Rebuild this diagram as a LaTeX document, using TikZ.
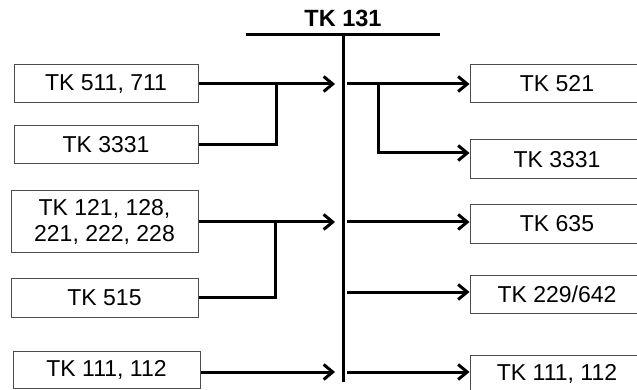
\documentclass[tikz,border=0pt]{standalone}
\usepackage{fontspec}
\setmainfont{Liberation Sans}
\usetikzlibrary{arrows.meta,calc}
\begin{document}
\begin{tikzpicture}[x=1pt,y=-1pt,
  box/.style={draw=black!70,line width=1pt,fill=white,inner sep=0pt,
    font=\fontsize{23}{26}\selectfont,align=center,text=black},
  conn/.style={line width=3pt,black},
  arr/.style={conn,-{Straight Barb[length=9pt,width=15pt,line width=3pt]}}]
\useasboundingbox (0,0) rectangle (637,390);
\clip (0,0) rectangle (637,390);
\fill[white] (0,0) rectangle (637,390);
% title and bus
\node[font=\fontsize{23.5}{26}\selectfont\bfseries] (title) at (343,18) {TK 131};
\coordinate (barL) at (246,35);
\coordinate (barR) at (440,35);
\draw[line width=3pt] (barL) -- (barR);
\coordinate (busT) at (343,35);
\coordinate (busB) at (343,382);
\draw[line width=3pt] (busT) -- (busB);
% left boxes
\node[box,minimum width=184,minimum height=38] (L1) at (106,84) {TK 511, 711};
\node[box,minimum width=184,minimum height=38] (L2) at (106,145) {TK 3331};
\node[box,minimum width=187,minimum height=61] (L3) at (104.5,221.5) {TK 121, 128,\\221, 222, 228};
\node[box,minimum width=187,minimum height=39] (L4) at (104.5,297.5) {TK 515};
\node[box,minimum width=187,minimum height=37] (L5) at (106.5,370) {TK 111, 112};
% right boxes
\node[box,minimum width=174,minimum height=38] (R1) at (557,84) {TK 521};
\node[box,minimum width=174,minimum height=39] (R2) at (557,159.5) {TK 3331};
\node[box,minimum width=174,minimum height=38] (R3) at (557,224) {TK 635};
\node[box,minimum width=174,minimum height=38] (R4) at (557,294) {TK 229/642};
\node[box,minimum width=174,minimum height=38] (R5) at (557,374) {TK 111, 112};
% junction coordinates
\coordinate (in1) at (335,84);
\coordinate (j1) at (276,84);
\coordinate (out1) at (347,84);
\coordinate (j2) at (378,84);
\coordinate (in2) at (335,222);
\coordinate (j3) at (275,222);
\coordinate (out3) at (347,222);
\coordinate (out4) at (347,292);
\coordinate (in5) at (335,372);
\coordinate (out5) at (347,372);
% left connectors
\draw[arr] (L1.east) -- (in1);
\draw[conn] (L2.east) -| (j1);
\draw[arr] (L3.east |- in2) -- (in2);
\draw[conn] (L4.east) -| (j3);
\draw[arr] (L5.east |- in5) -- (in5);
% right connectors
\draw[arr] (out1) -- (R1.west);
\draw[arr] (j2) |- ([yshift=6.5pt]R2.west);
\draw[arr] (out3) -- (R3.west |- out3);
\draw[arr] (out4) -- (R4.west |- out4);
\draw[arr] (out5) -- (R5.west |- out5);
\end{tikzpicture}
\end{document}
